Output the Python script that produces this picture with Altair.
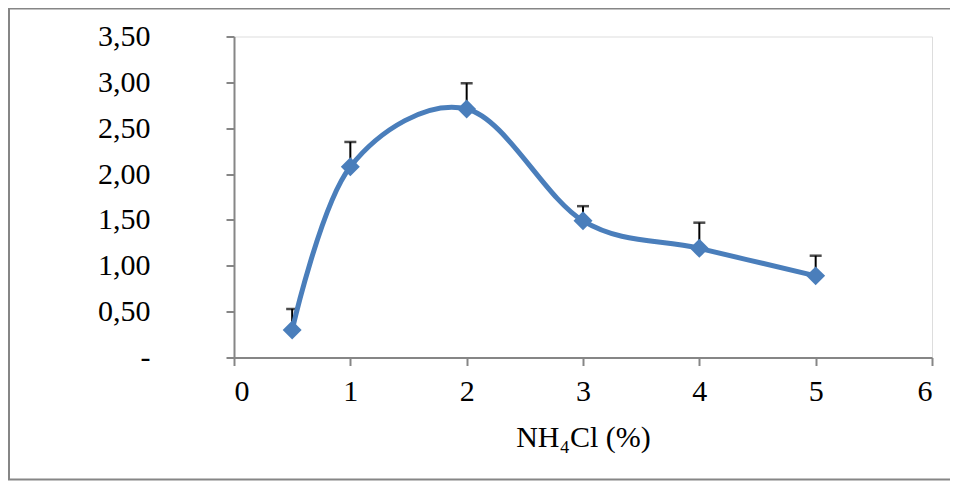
import altair as alt
import pandas as pd

conc = [0.5, 1, 2, 3, 4, 5]
values = [0.30, 2.08, 2.71, 1.49, 1.19, 0.89]
upper = [0.53, 2.35, 2.99, 1.65, 1.47, 1.11]

df = pd.DataFrame({"x": conc, "y": values, "hi": upper})

FONT = "Liberation Serif"
BLUE = "#4A7EBB"
GRAY = "#868686"
FS = 30

W, H = 698, 321

xscale = alt.Scale(domain=[0, 6], nice=False, zero=False)
yscale = alt.Scale(domain=[0, 3.5], nice=False)

xaxis = alt.Axis(values=[0, 1, 2, 3, 4, 5, 6], format="d", grid=False,
                 title="NH₄Cl (%)", titleFont=FONT, titleFontSize=FS,
                 titleFontWeight="normal", titleColor="black", titlePadding=16,
                 labelFont=FONT, labelFontSize=FS, labelColor="black",
                 labelPadding=11, tickSize=8, tickColor=GRAY, tickWidth=2,
                 domainColor=GRAY, domainWidth=2)
yaxis = alt.Axis(values=[0, 0.5, 1, 1.5, 2, 2.5, 3, 3.5], grid=False, title=None,
                 labelExpr="datum.value == 0 ? '-\u00a0' : replace(format(datum.value, '.2f'), '.', ',')",
                 labelFont=FONT, labelFontSize=FS, labelColor="black",
                 labelPadding=76, tickSize=8, tickColor=GRAY, tickWidth=2,
                 domainColor=GRAY, domainWidth=2)

base = alt.Chart(df)
one = pd.DataFrame({"a": [0]})

b_left = alt.Chart(one).mark_rule(color=GRAY, strokeWidth=2).encode(
    x=alt.value(-225), y=alt.value(-28), y2=alt.value(443))
b_top = alt.Chart(one).mark_rule(color=GRAY, strokeWidth=2).encode(
    x=alt.value(-226), x2=alt.value(720), y=alt.value(-28))
b_bot = alt.Chart(one).mark_rule(color=GRAY, strokeWidth=2).encode(
    x=alt.value(-226), x2=alt.value(720), y=alt.value(443))

err = base.mark_rule(color="black", strokeWidth=2).encode(
    x=alt.X("x:Q", scale=xscale, axis=xaxis), y=alt.Y("y:Q", scale=yscale, axis=yaxis), y2="hi:Q")
cap = base.mark_tick(color="black", thickness=2.5, size=12, orient="horizontal").encode(
    x=alt.X("x:Q", scale=xscale), y=alt.Y("hi:Q", scale=yscale))
line = base.mark_line(color=BLUE, strokeWidth=5, interpolate="cardinal").encode(
    x=alt.X("x:Q", scale=xscale), y=alt.Y("y:Q", scale=yscale))
pts = base.mark_point(shape="diamond", filled=True, color=BLUE, opacity=1, size=360).encode(
    x=alt.X("x:Q", scale=xscale), y=alt.Y("y:Q", scale=yscale))

chart = alt.layer(b_left, b_top, b_bot, err, cap, line, pts).properties(
    width=W, height=H,
    autosize=alt.AutoSizeParams(type="none"),
    padding={"left": 226, "top": 28.5, "right": 18, "bottom": 123},
).configure_view(stroke=None).configure(background="white")

chart.save("out.html", embed_options={"renderer": "svg", "actions": False})
